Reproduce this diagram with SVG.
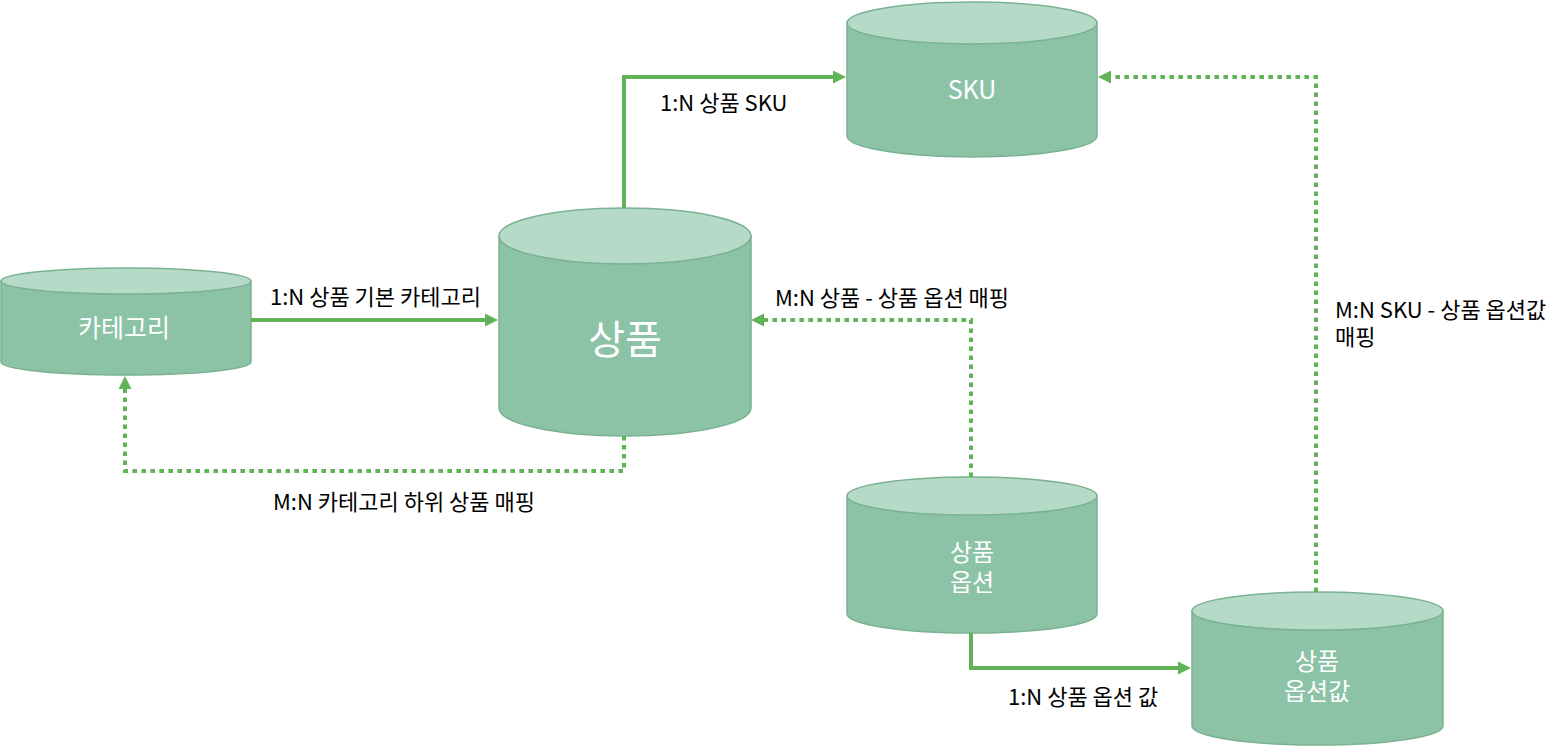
<svg xmlns="http://www.w3.org/2000/svg" width="1562" height="747" viewBox="0 0 1562 747">
<style>
  .body { fill: #8cc3a7; stroke: #79b291; stroke-width: 1.5; }
  .top { fill: #b6dac8; stroke: #79b291; stroke-width: 1.5; }
  .nlabel { fill: #ffffff; font-family: "Noto Sans CJK KR", "Noto Sans", sans-serif; font-size: 24px; text-anchor: middle; }
  .elabel { fill: #000000; font-family: "Noto Sans CJK KR", "Noto Sans", sans-serif; font-size: 22px; }
  .edge { fill: none; stroke: #60b356; stroke-width: 4; }
  .dotted { stroke-dasharray: 4.6 4.4; }
</style>
<defs>
  <marker id="arr" markerUnits="userSpaceOnUse" markerWidth="14" markerHeight="14" refX="5" refY="6.5" orient="auto" viewBox="0 0 14 13">
    <path d="M0,0 L13,6.5 L0,13 Z" fill="#60b356"/>
  </marker>
</defs>

<g id="node-category">
  <path class="body" d="M1,281 L1,362 A125,13 0 0 0 251,362 L251,281 Z"/>
  <ellipse class="top" cx="126" cy="281" rx="125" ry="13"/>
  <text class="nlabel" x="124" y="337" style="font-size:25px">카테고리</text>
</g>

<g id="node-product">
  <path class="body" d="M499,236 L499,408 A126,28 0 0 0 751,408 L751,236 Z"/>
  <ellipse class="top" cx="625" cy="236" rx="126" ry="28"/>
  <text class="nlabel" x="625" y="354" style="font-size:40px">상품</text>
</g>

<g id="node-sku">
  <path class="body" d="M847,23 L847,136 A125,21 0 0 0 1097,136 L1097,23 Z"/>
  <ellipse class="top" cx="972" cy="23" rx="125" ry="21"/>
  <text class="nlabel" x="972" y="99" style="font-size:25px">SKU</text>
</g>

<g id="node-option">
  <path class="body" d="M847,496 L847,614 A125,19 0 0 0 1097,614 L1097,496 Z"/>
  <ellipse class="top" cx="972" cy="496" rx="125" ry="19"/>
  <text class="nlabel" x="972" y="561">상품</text>
  <text class="nlabel" x="972" y="591">옵션</text>
</g>

<g id="node-option-value">
  <path class="body" d="M1192,611 L1192,726 A125.5,19 0 0 0 1443,726 L1443,611 Z"/>
  <ellipse class="top" cx="1317.5" cy="611" rx="125.5" ry="19"/>
  <text class="nlabel" x="1317" y="670">상품</text>
  <text class="nlabel" x="1317" y="700">옵션값</text>
</g>

<g id="connectors">
  <path class="edge" d="M251,320 H490" marker-end="url(#arr)"/>
  <path class="edge" d="M624,208 V77 H838" marker-end="url(#arr)"/>
  <path class="edge dotted" d="M624,436 V471 H125 V384" marker-end="url(#arr)"/>
  <path class="edge dotted" d="M971,477 V320 H759" marker-end="url(#arr)"/>
  <path class="edge" d="M971,633 V668 H1183" marker-end="url(#arr)"/>
  <path class="edge dotted" d="M1316,592 V77 H1106" marker-end="url(#arr)"/>
</g>

<g id="edge-labels">
  <text class="elabel" x="270" y="305">1:N 상품 기본 카테고리</text>
  <text class="elabel" x="660" y="111">1:N 상품 SKU</text>
  <text class="elabel" x="273" y="510">M:N 카테고리 하위 상품 매핑</text>
  <text class="elabel" x="775" y="306">M:N 상품 - 상품 옵션 매핑</text>
  <text class="elabel" x="1008" y="705">1:N 상품 옵션 값</text>
  <text class="elabel" x="1335" y="318">M:N SKU - 상품 옵션값</text>
  <text class="elabel" x="1335" y="345">매핑</text>
</g>
</svg>
